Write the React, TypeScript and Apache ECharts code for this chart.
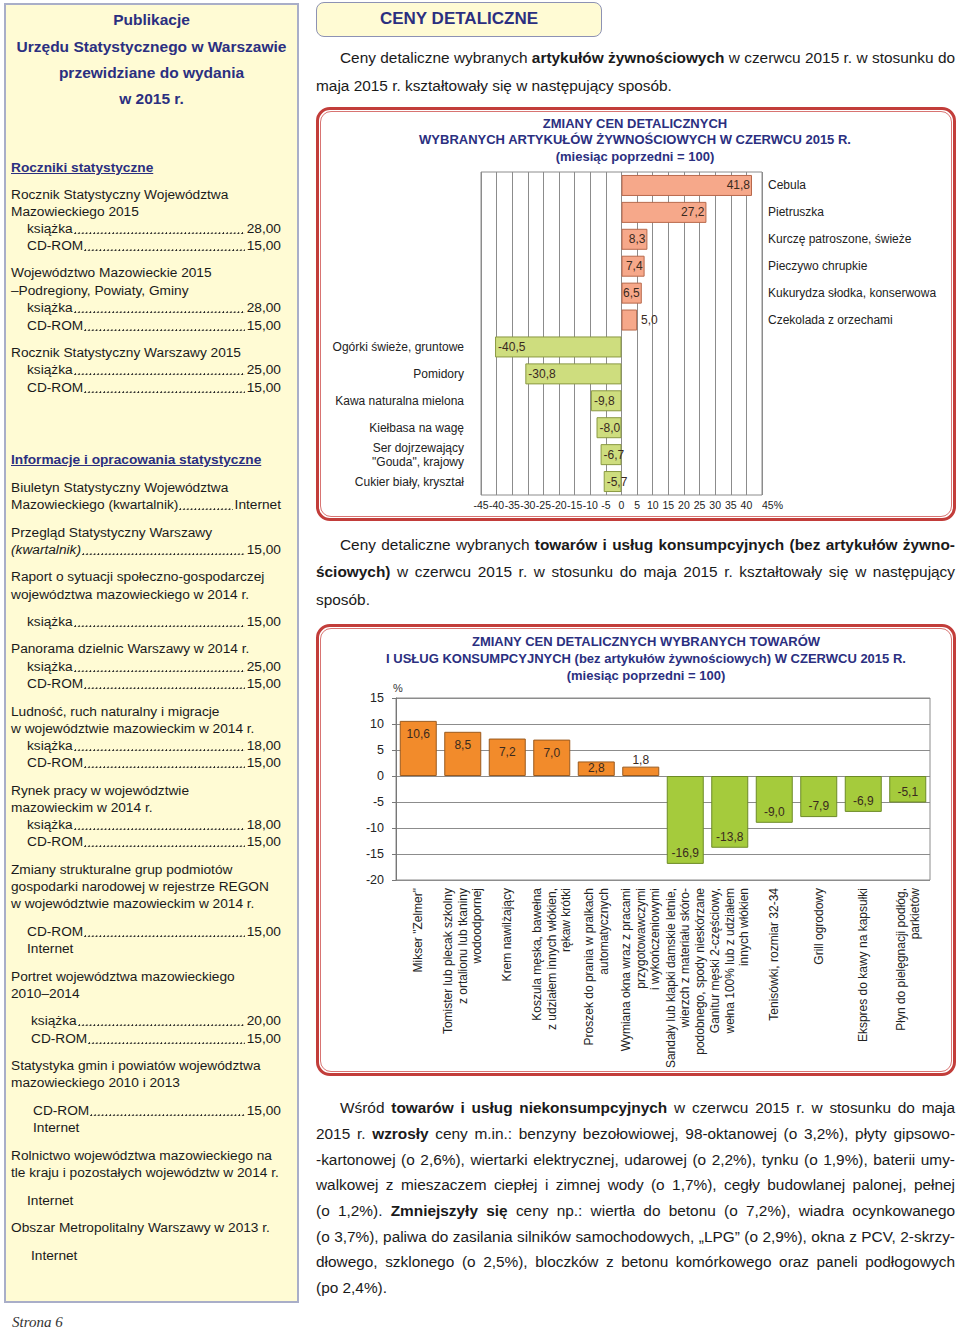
import React, { useEffect, useLayoutEffect, useRef } from 'react';
import * as echarts from 'echarts';

// ---------- DATA ----------
const foodCategories = [
  'Cebula',
  'Pietruszka',
  'Kurczę patroszone, świeże',
  'Pieczywo chrupkie',
  'Kukurydza słodka, konserwowa',
  'Czekolada z orzechami',
  'Ogórki świeże, gruntowe',
  'Pomidory',
  'Kawa naturalna mielona',
  'Kiełbasa na wagę',
  'Ser dojrzewający\n"Gouda", krajowy',
  'Cukier biały, kryształ',
];
const foodValues = [41.8, 27.2, 8.3, 7.4, 6.5, 5.0, -40.5, -30.8, -9.8, -8.0, -6.7, -5.7];

const goodsCategories = [
  'Mikser "Zelmer"',
  'Tomister lub plecak szkolny\nz ortalionu lub tkaniny\nwodoodpornej',
  'Krem nawilżający',
  'Koszula męska, bawełna\nz udziałem innych włókien,\nrękaw krótki',
  'Proszek do prania w pralkach\nautomatycznych',
  'Wymiana okna wraz z pracami\nprzygotowawczymi\ni wykończeniowymi',
  'Sandały lub klapki damskie letnie,\nwierzch z materiału skóro-\npodobnego, spody nieskórzane',
  'Ganitur męski 2-częściowy,\nwełna 100% lub z udziałem\ninnych włókien',
  'Tenisówki, rozmiar 32-34',
  'Grill ogrodowy',
  'Ekspres do kawy na kapsułki',
  'Płyn do pielęgnacji podłóg,\nparkietów',
];
const goodsValues = [10.6, 8.5, 7.2, 7.0, 2.8, 1.8, -16.9, -13.8, -9.0, -7.9, -6.9, -5.1];

const chart1Title = 'ZMIANY CEN DETALICZNYCH\nWYBRANYCH ARTYKUŁÓW ŻYWNOŚCIOWYCH W CZERWCU 2015 R.\n(miesiąc poprzedni = 100)';
const chart2Title = 'ZMIANY CEN DETALICZNYCH WYBRANYCH TOWARÓW\nI USŁUG KONSUMPCYJNYCH (bez artykułów żywnościowych) W CZERWCU 2015 R.\n(miesiąc poprzedni = 100)';

// ---------- STYLE CONSTANTS ----------
const NAVY = '#2b2f80';
const FONT = '"Liberation Sans", Arial, Helvetica, sans-serif';
const fmt = (v: number) => v.toFixed(1).replace('.', ',');

// ---------- CHART OPTIONS ----------
const option1: any = {
  animation: false,
  textStyle: { fontFamily: FONT },
  graphic: [
    {
      type: 'text',
      x: 319,
      y: 8,
      style: {
        text: chart1Title,
        align: 'center',
        verticalAlign: 'top',
        fill: NAVY,
        fontSize: 13,
        fontWeight: 'bold',
        fontFamily: FONT,
        lineHeight: 16.5,
      },
    },
  ],
  grid: { left: 165, top: 65, width: 281, height: 323, show: true, borderColor: '#8c8c8c', borderWidth: 1 },
  xAxis: {
    type: 'value',
    min: -45,
    max: 45,
    interval: 5,
    axisLine: { show: false },
    axisTick: { show: false },
    splitLine: { show: true, lineStyle: { color: '#8c8c8c', width: 1 } },
    axisLabel: {
      fontSize: 10.5,
      color: '#222',
      margin: 4,
      hideOverlap: false,
      showMinLabel: true,
      showMaxLabel: true,
      alignMaxLabel: 'left',
      formatter: (v: number) => (v === 45 ? '45%' : String(v)),
    },
  },
  yAxis: [
    {
      type: 'category',
      data: foodCategories,
      inverse: true,
      position: 'left',
      axisLine: { show: false, onZero: false },
      axisTick: { show: false },
      axisLabel: {
        interval: 0,
        margin: 17,
        fontSize: 12,
        lineHeight: 14,
        color: '#222',
        formatter: (v: string, i: number) => (foodValues[i] < 0 ? v : ''),
      },
    },
    {
      type: 'category',
      data: foodCategories,
      inverse: true,
      position: 'right',
      axisLine: { show: false, onZero: false },
      axisTick: { show: false },
      axisLabel: {
        interval: 0,
        margin: 6,
        fontSize: 12,
        color: '#222',
        formatter: (v: string, i: number) => (foodValues[i] >= 0 ? v : ''),
      },
    },
  ],
  series: [
    {
      type: 'bar',
      yAxisIndex: 0,
      barWidth: 21,
      data: foodValues.map((v) => ({
        value: v,
        itemStyle:
          v >= 0
            ? { color: '#f6a88a', borderColor: '#b8694c', borderWidth: 1 }
            : { color: '#cedd7e', borderColor: '#8a9942', borderWidth: 1 },
        label: {
          show: true,
          position: v >= 0 ? (v <= 5 ? 'right' : 'insideRight') : 'insideLeft',
          distance: v >= 0 ? (v <= 5 ? 4 : 2) : 3,
          formatter: () => fmt(v),
          fontSize: 12,
          color: '#3a2a1e',
        },
      })),
    },
  ],
};

const option2: any = {
  animation: false,
  textStyle: { fontFamily: FONT },
  graphic: [
    {
      type: 'text',
      x: 330,
      y: 9,
      style: {
        text: chart2Title,
        align: 'center',
        verticalAlign: 'top',
        fill: NAVY,
        fontSize: 13,
        fontWeight: 'bold',
        fontFamily: FONT,
        lineHeight: 17,
      },
    },
    {
      type: 'text',
      x: 77,
      y: 64,
      style: { text: '%', align: 'left', verticalAlign: 'middle', fill: '#333', fontSize: 11, fontFamily: FONT },
    },
  ],
  grid: { left: 80, top: 74, width: 534, height: 182, show: true, borderColor: '#8c8c8c', borderWidth: 1 },
  xAxis: {
    type: 'category',
    data: goodsCategories,
    axisLine: { show: false, onZero: false },
    axisTick: { show: false },
    axisLabel: {
      interval: 0,
      rotate: 90,
      margin: 8,
      fontSize: 12,
      lineHeight: 14.5,
      color: '#222',
    },
  },
  yAxis: {
    type: 'value',
    min: -20,
    max: 15,
    interval: 5,
    axisLine: { show: true, lineStyle: { color: '#777' } },
    axisTick: { show: true, length: 4, lineStyle: { color: '#777' } },
    splitLine: { show: true, lineStyle: { color: '#8c8c8c', width: 1 } },
    axisLabel: { fontSize: 12.5, color: '#222', margin: 12 },
  },
  series: [
    {
      type: 'bar',
      barWidth: 37,
      data: goodsValues.map((v) => ({
        value: v,
        itemStyle:
          v >= 0
            ? { color: '#f28b2b', borderColor: '#9a5a1e', borderWidth: 1 }
            : { color: '#a5cb3c', borderColor: '#6c8a26', borderWidth: 1 },
        label: {
          show: true,
          position: v >= 0 ? (v < 2 ? 'top' : 'insideTop') : 'insideBottom',
          distance: v >= 0 ? (v < 3 ? 1 : 7) : 5,
          formatter: () => fmt(v),
          fontSize: 12,
          color: '#3a2a1e',
        },
      })),
    },
  ],
};

// ---------- LEFT COLUMN TEXT ----------
const leftTitle: Array<[number, string]> = [
  [20, 'Publikacje'],
  [47, 'Urzędu Statystycznego w Warszawie'],
  [73, 'przewidziane do wydania'],
  [99, 'w 2015 r.'],
];
const leftHeads: Array<[number, string]> = [
  [168, 'Roczniki statystyczne'],
  [460, 'Informacje i opracowania statystyczne'],
];
const leftPlain: Array<[number, number, string]> = [
  [195, 11, 'Rocznik Statystyczny Województwa'],
  [212, 11, 'Mazowieckiego 2015'],
  [273, 11, 'Województwo Mazowieckie 2015'],
  [291, 11, '–Podregiony, Powiaty, Gminy'],
  [353, 11, 'Rocznik Statystyczny Warszawy 2015'],
  [488, 11, 'Biuletyn Statystyczny Województwa'],
  [533, 11, 'Przegląd Statystyczny Warszawy'],
  [577, 11, 'Raport o sytuacji społeczno-gospodarczej'],
  [595, 11, 'województwa mazowieckiego w 2014 r.'],
  [649, 11, 'Panorama dzielnic Warszawy w 2014 r.'],
  [712, 11, 'Ludność, ruch naturalny i migracje'],
  [729, 11, 'w województwie mazowieckim w 2014 r.'],
  [791, 11, 'Rynek pracy w województwie'],
  [808, 11, 'mazowieckim w 2014 r.'],
  [870, 11, 'Zmiany strukturalne grup podmiotów'],
  [887, 11, 'gospodarki narodowej w rejestrze REGON'],
  [904, 11, 'w województwie mazowieckim w 2014 r.'],
  [949, 27, 'Internet'],
  [977, 11, 'Portret województwa mazowieckiego'],
  [994, 11, '2010–2014'],
  [1066, 11, 'Statystyka gmin i powiatów województwa'],
  [1083, 11, 'mazowieckiego 2010 i 2013'],
  [1128, 33, 'Internet'],
  [1156, 11, 'Rolnictwo województwa mazowieckiego na'],
  [1173, 11, 'tle kraju i pozostałych województw w 2014 r.'],
  [1201, 27, 'Internet'],
  [1228, 11, 'Obszar Metropolitalny Warszawy w 2013 r.'],
  [1256, 31, 'Internet'],
];
const leftLeaders: Array<[number, number, string, string, boolean?]> = [
  [229, 27, 'książka', '28,00'],
  [246, 27, 'CD-ROM', '15,00'],
  [308, 27, 'książka', '28,00'],
  [326, 27, 'CD-ROM', '15,00'],
  [370, 27, 'książka', '25,00'],
  [388, 27, 'CD-ROM', '15,00'],
  [505, 11, 'Mazowieckiego (kwartalnik)', 'Internet'],
  [550, 11, '(kwartalnik)', '15,00', true],
  [622, 27, 'książka', '15,00'],
  [667, 27, 'książka', '25,00'],
  [684, 27, 'CD-ROM', '15,00'],
  [746, 27, 'książka', '18,00'],
  [763, 27, 'CD-ROM', '15,00'],
  [825, 27, 'książka', '18,00'],
  [842, 27, 'CD-ROM', '15,00'],
  [932, 27, 'CD-ROM', '15,00'],
  [1021, 31, 'książka', '20,00'],
  [1039, 31, 'CD-ROM', '15,00'],
  [1111, 33, 'CD-ROM', '15,00'],
];

// ---------- PARAGRAPHS ----------
type Seg = [string, boolean];
type PLineDef = { y: number; indent: number; justify: boolean; segs: Seg[] };
const para1: PLineDef[] = [
  { y: 58, indent: 24, justify: true, segs: [['Ceny detaliczne wybranych ', false], ['artykułów żywnościowych', true], [' w czerwcu 2015 r. w stosunku do', false]] },
  { y: 86, indent: 0, justify: false, segs: [['maja 2015 r. kształtowały się w następujący sposób.', false]] },
];
const para2: PLineDef[] = [
  { y: 545, indent: 24, justify: true, segs: [['Ceny detaliczne wybranych ', false], ['towarów i usług konsumpcyjnych (bez artykułów żywno-', true]] },
  { y: 572, indent: 0, justify: true, segs: [['ściowych)', true], [' w czerwcu 2015 r. w stosunku do maja 2015 r. kształtowały się w następujący', false]] },
  { y: 600, indent: 0, justify: false, segs: [['sposób.', false]] },
];
const para3: PLineDef[] = [
  { y: 1108, indent: 24, justify: true, segs: [['Wśród ', false], ['towarów i usług niekonsumpcyjnych', true], [' w czerwcu 2015 r. w stosunku do maja', false]] },
  { y: 1134, indent: 0, justify: true, segs: [['2015 r. ', false], ['wzrosły', true], [' ceny m.in.: benzyny bezołowiowej, 98-oktanowej (o 3,2%), płyty gipsowo-', false]] },
  { y: 1160, indent: 0, justify: true, segs: [['-kartonowej (o 2,6%), wiertarki elektrycznej, udarowej (o 2,2%), tynku (o 1,9%), baterii umy-', false]] },
  { y: 1185, indent: 0, justify: true, segs: [['walkowej z mieszaczem ciepłej i zimnej wody (o 1,7%), cegły budowlanej palonej, pełnej', false]] },
  { y: 1211, indent: 0, justify: true, segs: [['(o 1,2%). ', false], ['Zmniejszyły się', true], [' ceny np.: wiertła do betonu (o 7,2%), wiadra ocynkowanego', false]] },
  { y: 1237, indent: 0, justify: true, segs: [['(o 3,7%), paliwa do zasilania silników samochodowych, „LPG” (o 2,9%), okna z PCV, 2-skrzy-', false]] },
  { y: 1262, indent: 0, justify: true, segs: [['dłowego, szklonego (o 2,5%), bloczków z betonu komórkowego oraz paneli podłogowych', false]] },
  { y: 1288, indent: 0, justify: false, segs: [['(po 2,4%).', false]] },
];

// ---------- COMPONENTS ----------
function EChart({ option, style }: { option: any; style: React.CSSProperties }) {
  const ref = useRef<HTMLDivElement>(null);
  useEffect(() => {
    const chart = echarts.init(ref.current as HTMLDivElement, null, { renderer: 'svg' });
    chart.setOption(option);
    return () => chart.dispose();
  }, [option]);
  return <div ref={ref} style={style} />;
}

const P_LEFT = 316;
const P_RIGHT = 955;
const P_SIZE = 15.4;

function PLine({ d }: { d: PLineDef }) {
  const ref = useRef<HTMLDivElement>(null);
  useLayoutEffect(() => {
    const el = ref.current;
    if (!el) return;
    const over = el.scrollWidth - el.clientWidth;
    if (over > 0) {
      const n = (el.textContent || '').length;
      el.style.letterSpacing = `${-(over + 3) / n}px`;
    }
  }, []);
  return (
    <div
      ref={ref}
      style={{
        position: 'absolute',
        left: P_LEFT + d.indent,
        width: P_RIGHT - P_LEFT - d.indent,
        top: d.y - 11,
        height: 22,
        lineHeight: '22px',
        fontSize: P_SIZE,
        whiteSpace: 'nowrap',
        textAlign: d.justify ? 'justify' : 'left',
        textAlignLast: d.justify ? 'justify' : 'left',
        color: '#1a1a1a',
      } as React.CSSProperties}
    >
      {d.segs.map((s, i) => (
        <span key={i} style={{ fontWeight: s[1] ? 'bold' : 'normal' }}>
          {s[0]}
        </span>
      ))}
    </div>
  );
}

function Leader({ d }: { d: [number, number, string, string, boolean?] }) {
  const [y, x, label, price, italic] = d;
  return (
    <div
      style={{
        position: 'absolute',
        left: x,
        top: y - 9,
        width: 281 - x,
        height: 18,
        lineHeight: '18px',
        display: 'flex',
        whiteSpace: 'nowrap',
        fontSize: 13.7,
        color: '#1a1a1a',
      }}
    >
      <span style={{ fontStyle: italic ? 'italic' : 'normal' }}>{label}</span>
      <span
        style={{
          flex: 1,
          minWidth: 0,
          margin: '0 2px 0 1px',
          backgroundImage: 'radial-gradient(circle at 1.3px 1.3px, #222 0.75px, rgba(0,0,0,0) 1.15px)',
          backgroundSize: '3.8px 3px',
          backgroundRepeat: 'repeat-x',
          backgroundPosition: '0px 12.2px',
        }}
      />
      <span>{price}</span>
    </div>
  );
}

export default function App() {
  return (
    <div
      style={{
        position: 'absolute',
        left: 0,
        top: 0,
        width: 960,
        height: 1330,
        background: '#ffffff',
        fontFamily: FONT,
        overflow: 'hidden',
      }}
    >
      {/* Left yellow column */}
      <div
        style={{
          position: 'absolute',
          left: 4,
          top: 3,
          width: 295,
          height: 1300,
          boxSizing: 'border-box',
          border: '2px solid #a9aec8',
          background: '#fffbd4',
        }}
      />
      {leftTitle.map(([y, t]) => (
        <div
          key={t}
          style={{
            position: 'absolute',
            left: 4,
            width: 295,
            top: y - 10,
            height: 20,
            lineHeight: '20px',
            textAlign: 'center',
            fontWeight: 'bold',
            fontSize: 15.5,
            color: NAVY,
            whiteSpace: 'nowrap',
          }}
        >
          {t}
        </div>
      ))}
      {leftHeads.map(([y, t]) => (
        <div
          key={t}
          style={{
            position: 'absolute',
            left: 11,
            top: y - 9,
            height: 18,
            lineHeight: '18px',
            fontWeight: 'bold',
            fontSize: 13.7,
            color: NAVY,
            textDecoration: 'underline',
            whiteSpace: 'nowrap',
          }}
        >
          {t}
        </div>
      ))}
      {leftPlain.map(([y, x, t]) => (
        <div
          key={y}
          style={{
            position: 'absolute',
            left: x,
            top: y - 9,
            height: 18,
            lineHeight: '18px',
            fontSize: 13.7,
            color: '#1a1a1a',
            whiteSpace: 'nowrap',
          }}
        >
          {t}
        </div>
      ))}
      {leftLeaders.map((d) => (
        <Leader key={d[0]} d={d} />
      ))}
      <div
        style={{
          position: 'absolute',
          left: 12,
          top: 1313,
          fontFamily: '"Liberation Serif", "DejaVu Serif", serif',
          fontStyle: 'italic',
          fontSize: 15,
          color: '#333',
          lineHeight: '18px',
        }}
      >
        Strona 6
      </div>

      {/* Header box */}
      <div
        style={{
          position: 'absolute',
          left: 316,
          top: 2,
          width: 286,
          height: 35,
          boxSizing: 'border-box',
          border: '1.5px solid #8d92b4',
          borderRadius: 8,
          background: '#fffbd4',
          textAlign: 'center',
          lineHeight: '31px',
          fontWeight: 'bold',
          fontSize: 17,
          color: NAVY,
        }}
      >
        CENY DETALICZNE
      </div>

      {para1.map((d) => (
        <PLine key={d.y} d={d} />
      ))}

      {/* Chart 1 box */}
      <div
        style={{
          position: 'absolute',
          left: 316,
          top: 107,
          width: 640,
          height: 414,
          boxSizing: 'border-box',
          border: '3px solid #c23d3a',
          borderRadius: 14,
        }}
      >
        <div
          style={{
            position: 'absolute',
            left: 1,
            top: 1,
            right: 1,
            bottom: 1,
            border: '1px solid #d87472',
            borderRadius: 11,
          }}
        />
      </div>
      <EChart option={option1} style={{ position: 'absolute', left: 316, top: 107, width: 640, height: 414 }} />

      {para2.map((d) => (
        <PLine key={d.y} d={d} />
      ))}

      {/* Chart 2 box */}
      <div
        style={{
          position: 'absolute',
          left: 316,
          top: 624,
          width: 640,
          height: 452,
          boxSizing: 'border-box',
          border: '3px solid #c23d3a',
          borderRadius: 14,
        }}
      >
        <div
          style={{
            position: 'absolute',
            left: 1,
            top: 1,
            right: 1,
            bottom: 1,
            border: '1px solid #d87472',
            borderRadius: 11,
          }}
        />
      </div>
      <EChart option={option2} style={{ position: 'absolute', left: 316, top: 624, width: 640, height: 452 }} />

      {para3.map((d) => (
        <PLine key={d.y} d={d} />
      ))}
    </div>
  );
}
